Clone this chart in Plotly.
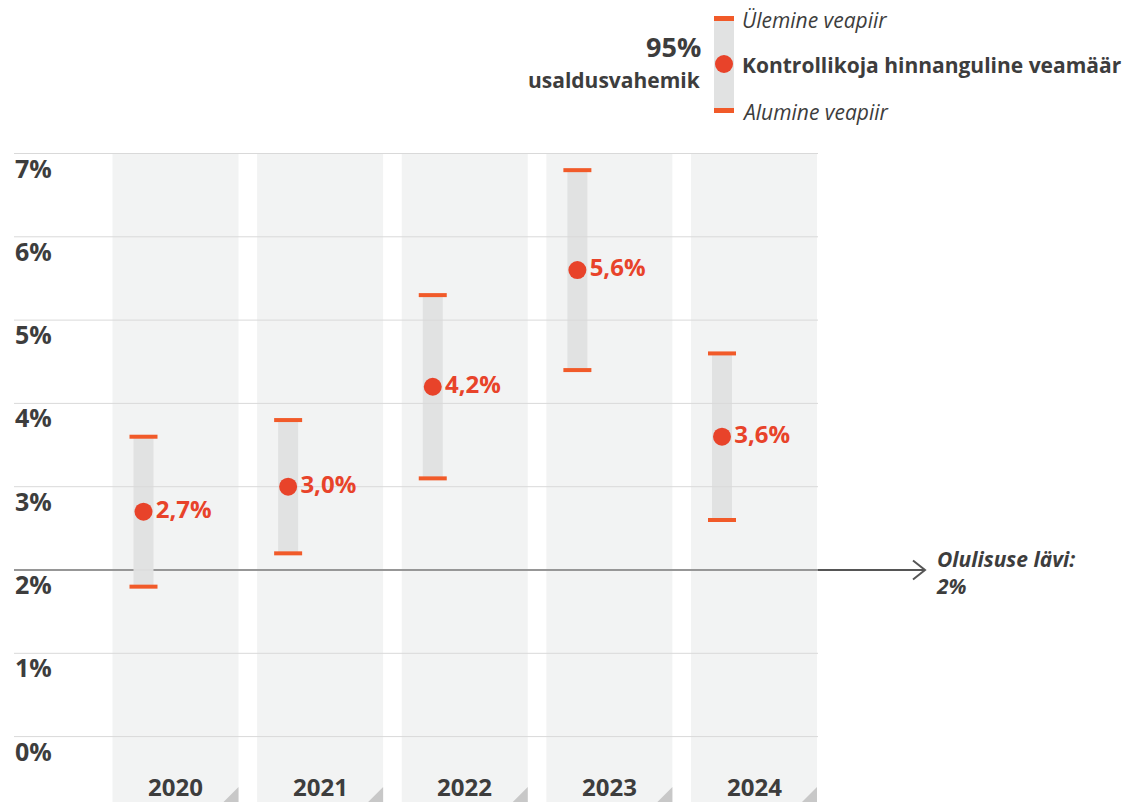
import plotly.graph_objects as go

# data (percent)
years = ["2020", "2021", "2022", "2023", "2024"]
estimate = [2.7, 3.0, 4.2, 5.6, 3.6]
lower = [1.8, 2.2, 3.1, 4.4, 2.6]
upper = [3.6, 3.8, 5.3, 6.8, 4.6]
tick_values = [0, 1, 2, 3, 4, 5, 6, 7]
threshold = 2

W, H = 1126, 802
FONT = "Open Sans, Noto Sans, sans-serif"
DARK = "#3d3d3d"
ORANGE = "#e8432a"
CAP = "#f15a29"
COL_BG = "#f2f3f3"
BAR_GREY = "#e1e2e2"

# pixel geometry -> axis ranges
STEP = 144.625          # px between year columns
PLOT_W = 940
X0 = -175.5 / STEP
X1 = X0 + PLOT_W / STEP
UNIT = 83.3             # px per 1 %
TOP = 153
PLOT_H = H - TOP
Y1 = 7 + 0.5 / UNIT
Y0 = Y1 - PLOT_H / UNIT

xs = list(range(len(years)))
shift = -32 / STEP      # error bars sit left of the column centre
xe = [x + shift for x in xs]


def px_x(px):
    return X0 + px / STEP


def paper_x(px):
    return px / PLOT_W


def paper_y(py):
    return (H - py) / PLOT_H


fig = go.Figure()

# background columns
fig.add_trace(go.Bar(
    x=xs, y=[7 - Y0] * len(xs), base=Y0, width=126 / STEP,
    marker=dict(color=COL_BG, line_width=0), hoverinfo="skip",
))

# threshold line with chevron
tip = px_x(925)
fig.add_trace(go.Scatter(
    x=[px_x(14), tip, None, tip - 12 / STEP, tip, tip - 12 / STEP],
    y=[threshold, threshold, None, threshold + 9.5 / UNIT, threshold, threshold - 9.5 / UNIT],
    mode="lines", line=dict(color="#555555", width=2), hoverinfo="skip",
))

# confidence interval bars
fig.add_trace(go.Scatter(
    x=xe, y=lower, mode="markers", marker=dict(size=1, opacity=0),
    error_y=dict(type="data", symmetric=False,
                 array=[u - l for u, l in zip(upper, lower)],
                 arrayminus=[0] * len(lower),
                 thickness=20, width=0, color=BAR_GREY),
    hoverinfo="skip",
))

# gridlines
gx0, gx1 = px_x(14), px_x(818)
gx, gy = [], []
for v in tick_values:
    gx += [gx0, gx1, None]
    gy += [v, v, None]
fig.add_trace(go.Scatter(x=gx, y=gy, mode="lines",
                         line=dict(color="#d9d9d9", width=1), hoverinfo="skip"))

# caps
fig.add_trace(go.Scatter(
    x=xe + xe, y=upper + lower, mode="markers",
    marker=dict(symbol="line-ew", size=20, line=dict(color=CAP, width=4)),
    hoverinfo="skip",
))

# point estimates
fig.add_trace(go.Scatter(
    x=xe, y=estimate, mode="markers+text",
    marker=dict(size=18, color=ORANGE),
    text=[f"<b>{v:.1f}%</b>".replace(".", ",") for v in estimate],
    textposition="middle right",
    textfont=dict(family=FONT, size=24, color=ORANGE),
    hoverinfo="skip",
))

annotations = []
# y tick labels under gridlines
for v in tick_values:
    annotations.append(dict(
        x=paper_x(13), xref="paper", y=v, yref="y", text=f"<b>{v}%</b>",
        xanchor="left", yanchor="top", yshift=5, showarrow=False,
        font=dict(family=FONT, size=25, color=DARK),
    ))
# year labels
for x, yr in zip(xs, years):
    annotations.append(dict(
        x=x, y=-0.6, xref="x", yref="y", text=f"<b>{yr}</b>", showarrow=False,
        xanchor="center", yanchor="middle",
        font=dict(family=FONT, size=24, color=DARK),
    ))
# threshold label
annotations.append(dict(
    x=px_x(934), xref="x", y=threshold, yref="y", yshift=-2,
    text="<b><i>Olulisuse lävi:<br>2%</i></b>", align="left",
    xanchor="left", yanchor="middle", showarrow=False,
    font=dict(family=FONT, size=21, color=DARK),
))
# legend text
legend_text = [
    (740, 20, "<i>Ülemine veapiir</i>", "left", 21),
    (740, 65, "<b>Kontrollikoja hinnanguline veamäär</b>", "left", 21),
    (740, 112, "<i>Alumine veapiir</i>", "left", 21),
    (703, 47, "<b>95%</b>", "right", 27),
    (703, 80, "<b>usaldusvahemik</b>", "right", 21),
]
for lx, ly, txt, anchor, size in legend_text:
    annotations.append(dict(
        x=paper_x(lx), y=paper_y(ly), xref="paper", yref="paper", text=txt,
        xanchor=anchor, yanchor="middle", showarrow=False,
        font=dict(family=FONT, size=size, color=DARK),
    ))

shapes = []
# legend glyph
shapes.append(dict(type="rect", xref="paper", yref="paper", layer="above",
                   x0=paper_x(714), x1=paper_x(734), y0=paper_y(110), y1=paper_y(18),
                   fillcolor=BAR_GREY, line_width=0))
for cy in (18.5, 110.5):
    shapes.append(dict(type="rect", xref="paper", yref="paper", layer="above",
                       x0=paper_x(714), x1=paper_x(734),
                       y0=paper_y(cy + 2.5), y1=paper_y(cy - 2.5),
                       fillcolor=CAP, line_width=0))
shapes.append(dict(type="circle", xref="paper", yref="paper", layer="above",
                   x0=paper_x(715), x1=paper_x(733), y0=paper_y(73), y1=paper_y(55),
                   fillcolor=ORANGE, line_width=0))
# corner triangles at column bottoms
dx, dy = 15 / STEP, 15 / UNIT
for x in xs:
    r = x + 63 / STEP
    shapes.append(dict(
        type="path", xref="x", yref="y", layer="above",
        path=f"M {r},{Y0} L {r},{Y0 + dy} L {r - dx},{Y0} Z",
        fillcolor="#c8c8c8", line_width=0,
    ))

fig.update_layout(
    width=W, height=H,
    margin=dict(l=0, r=W - PLOT_W, t=TOP, b=0, pad=0),
    paper_bgcolor="white", plot_bgcolor="white",
    showlegend=False,
    xaxis=dict(range=[X0, X1], visible=False, fixedrange=True),
    yaxis=dict(range=[Y0, Y1], visible=False, fixedrange=True),
    annotations=annotations, shapes=shapes,
    font=dict(family=FONT, color=DARK),
    hovermode=False,
)

# drop the browser's default page margin so the figure sits at the top-left
fig.write_html("out.html", config={"displayModeBar": False},
               post_script="document.body.style.margin='0';document.body.style.overflow='hidden';")
